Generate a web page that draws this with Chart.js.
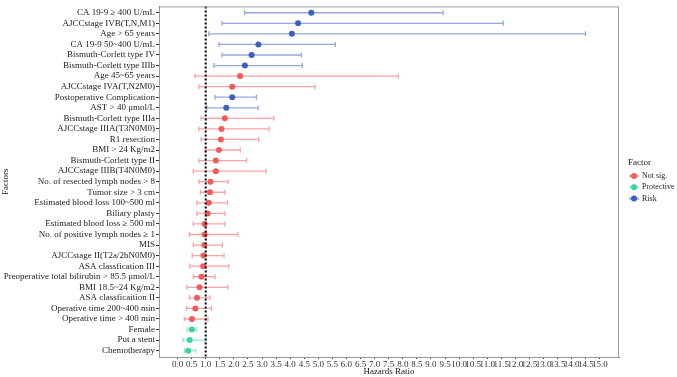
<!DOCTYPE html>
<html>
<head>
<meta charset="utf-8">
<script src="https://cdn.jsdelivr.net/npm/chart.js@4.4.1/dist/chart.umd.min.js"></script>
<style>
  html, body { margin: 0; padding: 0; background: #fff; }
  #wrap { width: 677px; height: 377px; }
</style>
</head>
<body>
<div id="wrap"><canvas id="forestChart"></canvas></div>
<script>
const categories = [
    'CA 19-9 ≥ 400 U/mL',
    'AJCCstage IVB(T,N,M1)',
    'Age > 65 years',
    'CA 19-9 50~400 U/mL',
    'Bismuth-Corlett type IV',
    'Bismuth-Corlett type IIIb',
    'Age 45~65 years',
    'AJCCstage IVA(T,N2M0)',
    'Postoperative Complication',
    'AST > 40 μmol/L',
    'Bismuth-Corlett type IIIa',
    'AJCCstage IIIA(T3N0M0)',
    'R1 resection',
    'BMI > 24 Kg/m2',
    'Bismuth-Corlett type II',
    'AJCCstage IIIB(T4N0M0)',
    'No. of resected lymph nodes > 8',
    'Tumor size > 3 cm',
    'Estimated blood loss 100~500 ml',
    'Biliary plasty',
    'Estimated blood loss ≥ 500 ml',
    'No. of positive lymph nodes ≥ 1',
    'MIS',
    'AJCCstage II(T2a/2bN0M0)',
    'ASA classfication III',
    'Preoperative total bilirubin > 85.5 μmol/L',
    'BMI 18.5~24 Kg/m2',
    'ASA classficaition II',
    'Operative time 200~400 min',
    'Operative time > 400 min',
    'Female',
    'Put a stent',
    'Chemotherapy'
];

const hazardRatio = [4.75, 4.28, 4.06, 2.87, 2.63, 2.39, 2.22, 1.94, 1.94, 1.73,
                     1.68, 1.56, 1.54, 1.47, 1.36, 1.36, 1.17, 1.15, 1.11, 1.07,
                     0.96, 0.96, 0.95, 0.92, 0.91, 0.85, 0.78, 0.69, 0.63, 0.51,
                     0.51, 0.43, 0.38];
const ciLower = [2.38, 1.58, 1.11, 1.47, 1.58, 1.29, 0.62, 0.76, 1.33, 1.04,
                 0.84, 0.75, 0.84, 0.98, 0.76, 0.56, 0.76, 0.81, 0.69, 0.69,
                 0.56, 0.42, 0.56, 0.52, 0.44, 0.56, 0.33, 0.42, 0.32, 0.24,
                 0.34, 0.19, 0.25];
const ciUpper = [9.43, 11.57, 14.49, 5.60, 4.40, 4.43, 7.84, 4.88, 2.80, 2.86,
                 3.42, 3.25, 2.88, 2.23, 2.45, 3.14, 1.80, 1.68, 1.77, 1.68,
                 1.68, 2.14, 1.59, 1.65, 1.82, 1.33, 1.78, 1.15, 1.21, 1.08,
                 0.68, 0.97, 0.64];
const factorGroup = ['Risk', 'Risk', 'Risk', 'Risk', 'Risk', 'Risk', 'Not sig.', 'Not sig.', 'Risk', 'Risk',
                     'Not sig.', 'Not sig.', 'Not sig.', 'Not sig.', 'Not sig.', 'Not sig.', 'Not sig.', 'Not sig.', 'Not sig.', 'Not sig.',
                     'Not sig.', 'Not sig.', 'Not sig.', 'Not sig.', 'Not sig.', 'Not sig.', 'Not sig.', 'Not sig.', 'Not sig.', 'Not sig.',
                     'Protective', 'Protective', 'Protective'];
const legendNames = ['Not sig.', 'Protective', 'Risk'];
const xTickValues = [0.0, 0.5, 1.0, 1.5, 2.0, 2.5, 3.0, 3.5, 4.0, 4.5, 5.0, 5.5, 6.0, 6.5, 7.0, 7.5,
                     8.0, 8.5, 9.0, 9.5, 10.0, 10.5, 11.0, 11.5, 12.0, 12.5, 13.0, 13.5, 14.0, 14.5, 15.0];

const pointColors = { 'Not sig.': '#F35A5A', 'Protective': '#3FD39C', 'Risk': '#3D60BE' };
const barColors = { 'Not sig.': 'rgba(243, 90, 90, 0.55)', 'Protective': 'rgba(63, 211, 156, 0.55)', 'Risk': 'rgba(61, 96, 190, 0.55)' };
const serif = '"Liberation Serif", "DejaVu Serif", serif';

// error bars behind the points
const errorBars = {
    id: 'errorBars',
    beforeDatasetsDraw(chart) {
        const { ctx, scales: { x, y } } = chart;
        ctx.save();
        ctx.lineWidth = 1.3;
        categories.forEach((c, i) => {
            const yp = y.getPixelForValue(i);
            const x0 = x.getPixelForValue(ciLower[i]);
            const x1 = x.getPixelForValue(ciUpper[i]);
            ctx.strokeStyle = barColors[factorGroup[i]];
            ctx.beginPath();
            ctx.moveTo(x0, yp);
            ctx.lineTo(x1, yp);
            ctx.moveTo(x0, yp - 2.5);
            ctx.lineTo(x0, yp + 2.5);
            ctx.moveTo(x1, yp - 2.5);
            ctx.lineTo(x1, yp + 2.5);
            ctx.stroke();
        });
        ctx.restore();
    }
};

// dotted reference line at HR = 1, plus the panel frame
const refLine = {
    id: 'refLine',
    afterDatasetsDraw(chart) {
        const { ctx, chartArea, scales: { x } } = chart;
        const xp = x.getPixelForValue(1);
        ctx.save();
        ctx.strokeStyle = '#000';
        ctx.lineWidth = 2;
        ctx.setLineDash([2, 2]);
        ctx.beginPath();
        ctx.moveTo(xp, chartArea.top);
        ctx.lineTo(xp, chartArea.bottom);
        ctx.stroke();
        ctx.setLineDash([]);
        ctx.strokeStyle = '#9a9a9a';
        ctx.lineWidth = 1;
        ctx.strokeRect(chartArea.left + 0.5, chartArea.top + 0.5, chartArea.right - chartArea.left - 1, chartArea.bottom - chartArea.top);
        ctx.restore();
    }
};

const factorLegend = {
    id: 'factorLegend',
    afterDraw(chart) {
        const { ctx, chartArea } = chart;
        const left = chartArea.right + 9;
        const mid = (chartArea.top + chartArea.bottom) / 2;
        ctx.save();
        ctx.fillStyle = '#222';
        ctx.textBaseline = 'middle';
        ctx.textAlign = 'left';
        ctx.font = '9px ' + serif;
        ctx.fillText('Factor', left, mid - 19);
        ctx.font = '8px ' + serif;
        legendNames.forEach((name, k) => {
            const yp = mid - 5.7 + k * 11.3;
            ctx.strokeStyle = barColors[name];
            ctx.lineWidth = 2;
            ctx.beginPath();
            ctx.moveTo(left + 1, yp);
            ctx.lineTo(left + 11, yp);
            ctx.stroke();
            ctx.fillStyle = pointColors[name];
            ctx.beginPath();
            ctx.arc(left + 6, yp, 3, 0, Math.PI * 2);
            ctx.fill();
            ctx.fillStyle = '#222';
            ctx.fillText(name, left + 14, yp);
        });
        ctx.restore();
    }
};

const datasets = legendNames.map(name => ({
    label: name,
    data: categories
        .map((c, i) => ({ x: hazardRatio[i], y: i, g: factorGroup[i] }))
        .filter(p => p.g === name),
    backgroundColor: pointColors[name],
    borderWidth: 0,
    pointRadius: 3,
    pointHoverRadius: 3
}));

const ctx = document.getElementById('forestChart').getContext('2d');
new Chart(ctx, {
    type: 'scatter',
    data: { datasets: datasets },
    plugins: [errorBars, refLine, factorLegend],
    options: {
        responsive: true,
        maintainAspectRatio: false,
        animation: false,
        layout: { padding: { top: 1, right: 58, left: 0, bottom: 0 } },
        plugins: {
            legend: { display: false },
            tooltip: { enabled: false }
        },
        scales: {
            x: {
                type: 'linear',
                min: -0.66,
                max: 15.68,
                afterBuildTicks: scale => { scale.ticks = xTickValues.map(v => ({ value: v })); },
                afterFit: scale => { scale.height = 20; },
                grid: { drawOnChartArea: false, tickLength: 2, color: '#333' },
                border: { color: '#8a8a8a' },
                ticks: {
                    autoSkip: false,
                    maxRotation: 0,
                    padding: 0,
                    color: '#333',
                    font: { family: serif, size: 9 },
                    callback: v => Number(v).toFixed(1)
                },
                title: {
                    display: true,
                    text: 'Hazards Ratio',
                    color: '#222',
                    padding: 0,
                    font: { family: serif, size: 9 }
                }
            },
            y: {
                type: 'linear',
                reverse: true,
                min: -0.6,
                max: 32.6,
                afterBuildTicks: scale => { scale.ticks = categories.map((c, i) => ({ value: i })); },
                afterFit: scale => { scale.width = 159; },
                grid: { drawOnChartArea: false, tickLength: 3, color: '#333' },
                border: { color: '#555' },
                ticks: {
                    autoSkip: false,
                    padding: 1,
                    color: '#222',
                    font: { family: serif, size: 9 },
                    callback: v => categories[v]
                },
                title: {
                    display: true,
                    text: 'Factors',
                    color: '#222',
                    padding: 0,
                    font: { family: serif, size: 9 }
                }
            }
        }
    }
});
</script>
</body>
</html>
